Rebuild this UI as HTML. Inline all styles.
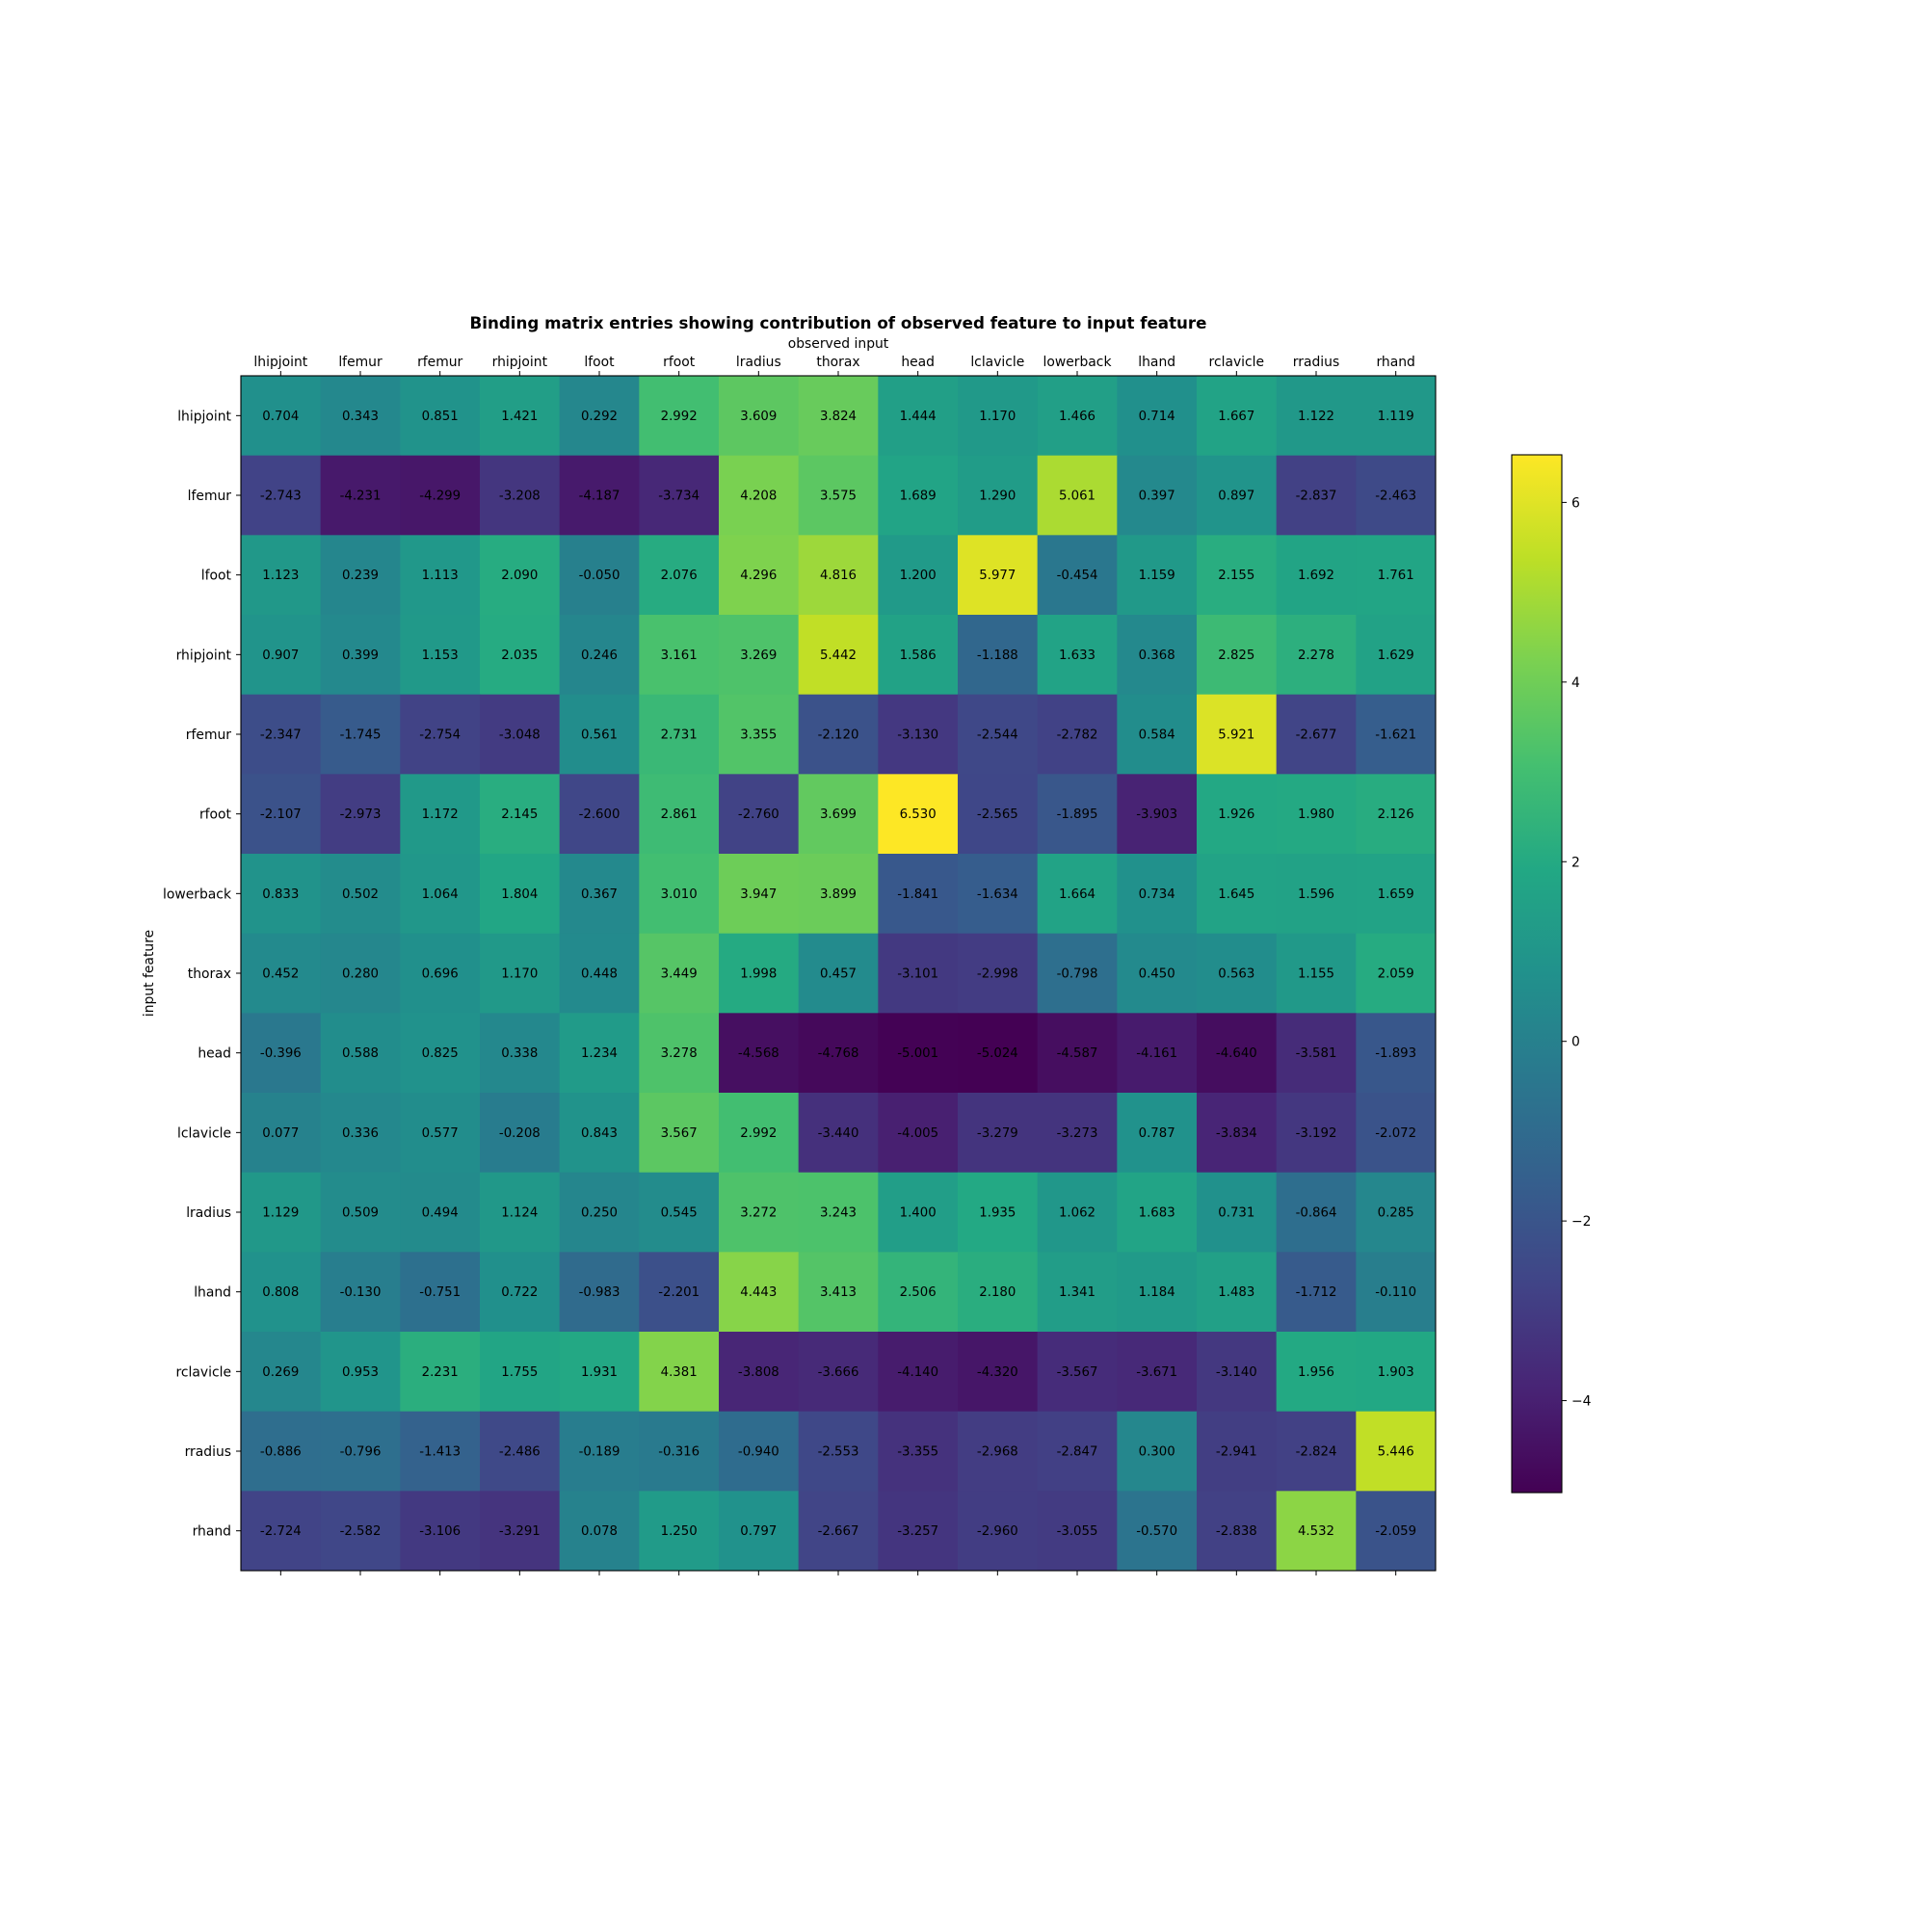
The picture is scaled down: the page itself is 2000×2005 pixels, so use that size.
<!DOCTYPE html>
<html><head><meta charset="utf-8"><style>
html,body{margin:0;padding:0;background:#fff;}
svg text{font-family:"DejaVu Sans","Liberation Sans",sans-serif;}
</style></head><body>
<svg id="chart" width="2000" height="2000" viewBox="0 0 2000 2000" xmlns="http://www.w3.org/2000/svg">
<rect width="2000" height="2000" fill="#fff"/>
<text x="870" y="341" text-anchor="middle" font-size="16.7" font-weight="bold">Binding matrix entries showing contribution of observed feature to input feature</text>
<text x="870" y="361" text-anchor="middle" font-size="13.9">observed input</text>
<text x="159" y="1010" text-anchor="middle" font-size="13.9" transform="rotate(-90 159 1010)">input feature</text>
<g id="cells"></g><g id="axes"></g><g id="cbar"></g>
</svg>
<script>
const colLabels=["lhipjoint","lfemur","rfemur","rhipjoint","lfoot","rfoot","lradius","thorax","head","lclavicle","lowerback","lhand","rclavicle","rradius","rhand"];
const rowLabels=["lhipjoint","lfemur","lfoot","rhipjoint","rfemur","rfoot","lowerback","thorax","head","lclavicle","lradius","lhand","rclavicle","rradius","rhand"];
const row0=[0.704,0.343,0.851,1.421,0.292,2.992,3.609,3.824,1.444,1.170,1.466,0.714,1.667,1.122,1.119];
const row1=[-2.743,-4.231,-4.299,-3.208,-4.187,-3.734,4.208,3.575,1.689,1.290,5.061,0.397,0.897,-2.837,-2.463];
const row2=[1.123,0.239,1.113,2.090,-0.050,2.076,4.296,4.816,1.200,5.977,-0.454,1.159,2.155,1.692,1.761];
const row3=[0.907,0.399,1.153,2.035,0.246,3.161,3.269,5.442,1.586,-1.188,1.633,0.368,2.825,2.278,1.629];
const row4=[-2.347,-1.745,-2.754,-3.048,0.561,2.731,3.355,-2.120,-3.130,-2.544,-2.782,0.584,5.921,-2.677,-1.621];
const row5=[-2.107,-2.973,1.172,2.145,-2.600,2.861,-2.760,3.699,6.530,-2.565,-1.895,-3.903,1.926,1.980,2.126];
const row6=[0.833,0.502,1.064,1.804,0.367,3.010,3.947,3.899,-1.841,-1.634,1.664,0.734,1.645,1.596,1.659];
const row7=[0.452,0.280,0.696,1.170,0.448,3.449,1.998,0.457,-3.101,-2.998,-0.798,0.450,0.563,1.155,2.059];
const row8=[-0.396,0.588,0.825,0.338,1.234,3.278,-4.568,-4.768,-5.001,-5.024,-4.587,-4.161,-4.640,-3.581,-1.893];
const row9=[0.077,0.336,0.577,-0.208,0.843,3.567,2.992,-3.440,-4.005,-3.279,-3.273,0.787,-3.834,-3.192,-2.072];
const row10=[1.129,0.509,0.494,1.124,0.250,0.545,3.272,3.243,1.400,1.935,1.062,1.683,0.731,-0.864,0.285];
const row11=[0.808,-0.130,-0.751,0.722,-0.983,-2.201,4.443,3.413,2.506,2.180,1.341,1.184,1.483,-1.712,-0.110];
const row12=[0.269,0.953,2.231,1.755,1.931,4.381,-3.808,-3.666,-4.140,-4.320,-3.567,-3.671,-3.140,1.956,1.903];
const row13=[-0.886,-0.796,-1.413,-2.486,-0.189,-0.316,-0.940,-2.553,-3.355,-2.968,-2.847,0.300,-2.941,-2.824,5.446];
const row14=[-2.724,-2.582,-3.106,-3.291,0.078,1.250,0.797,-2.667,-3.257,-2.960,-3.055,-0.570,-2.838,4.532,-2.059];
const values=[row0,row1,row2,row3,row4,row5,row6,row7,row8,row9,row10,row11,row12,row13,row14];
const cbTicks=[-4,-2,0,2,4,6];

const NS="http://www.w3.org/2000/svg";
const L=250,T=390,W=1240,H=1240;
const nC=colLabels.length,nR=rowLabels.length;
const cw=W/nC,ch=H/nR;
const all=values.flat();
const vmin=Math.min(...all),vmax=Math.max(...all);
const stops=["#440154","#482475","#414487","#355f8d","#2a788e","#21918c","#22a884","#44bf70","#7ad151","#bddf26","#fde725"];
function hx(h){return [1,3,5].map(i=>parseInt(h.substr(i,2),16));}
function viridis(t){t=Math.max(0,Math.min(1,t));const p=t*10,i=Math.min(9,Math.floor(p)),f=p-i;const a=hx(stops[i]),b=hx(stops[i+1]);return "rgb("+a.map((v,k)=>Math.round(v+(b[k]-v)*f)).join(",")+")";}
function xc(j){return L+(j+0.5)*cw;}
function yc(i){return T+(i+0.5)*ch;}
function mk(tag,attrs,parent){const e=document.createElementNS(NS,tag);for(const k in attrs)e.setAttribute(k,attrs[k]);parent.appendChild(e);return e;}
const cells=document.getElementById('cells'),axes=document.getElementById('axes'),cbar=document.getElementById('cbar');
values.forEach((row,i)=>row.forEach((v,j)=>{
  const r=mk('rect',{x:L+j*cw,y:T+i*ch,width:cw+0.5,height:ch+0.5,fill:viridis((v-vmin)/(vmax-vmin))},cells);
  
  
  const t=mk('text',{x:xc(j),y:yc(i)+4.5,'text-anchor':'middle','font-size':13.3},cells);
  
  
  t.textContent=v.toFixed(3);
}));
const fr=mk('rect',{x:L,y:T,width:W,height:H,fill:'none',stroke:'#000','stroke-width':1.1},axes);


colLabels.forEach((c,j)=>{
  mk('line',{x1:xc(j),x2:xc(j),y1:T,y2:T-5,stroke:'#000'},axes);
  mk('line',{x1:xc(j),x2:xc(j),y1:T+H,y2:T+H+5,stroke:'#000'},axes);
  const t=mk('text',{x:xc(j),y:T-10,'text-anchor':'middle','font-size':13.9},axes);
  
  
  t.textContent=c;
});
rowLabels.forEach((r,i)=>{
  mk('line',{x1:L,x2:L-5,y1:yc(i),y2:yc(i),stroke:'#000'},axes);
  const t=mk('text',{x:L-10,y:yc(i)+5,'text-anchor':'end','font-size':13.9},axes);
  
  
  t.textContent=r;
});
// colorbar
const CL=1569,CW=52,CT=472,CB=1549;
const gd=mk('linearGradient',{id:'vg',x1:0,y1:1,x2:0,y2:0},mk('defs',{},cbar));
stops.forEach((s,k)=>mk('stop',{offset:k/10,'stop-color':s},gd));
const cb=mk('rect',{x:CL,y:CT,width:CW,height:CB-CT,fill:'url(#vg)',stroke:'#000','stroke-width':1.1},cbar);


function cy(v){return CB-(v-vmin)/(vmax-vmin)*(CB-CT);}
cbTicks.forEach(v=>{
  mk('line',{x1:CL+CW,x2:CL+CW+5,y1:cy(v),y2:cy(v),stroke:'#000'},cbar);
  const t=mk('text',{x:CL+CW+10,y:cy(v)+5,'font-size':13.9},cbar);
  
  
  t.textContent=v<0?'\u2212'+Math.abs(v):String(v);
});
</script>
</body></html>
